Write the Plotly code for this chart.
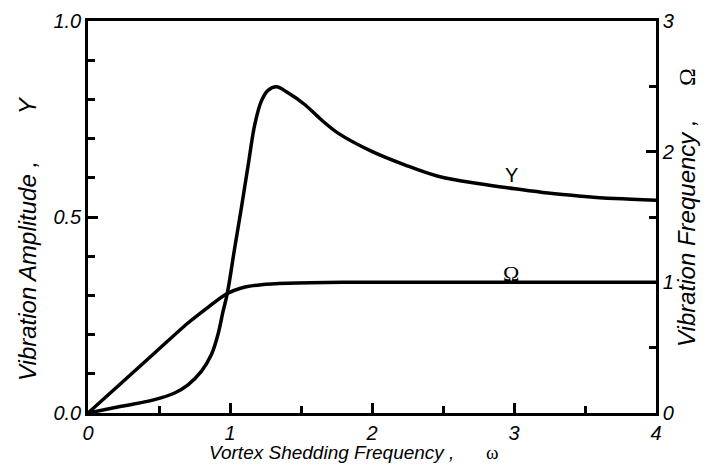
import plotly.graph_objects as go

# Vibration amplitude Y vs vortex shedding frequency omega (left axis)
omega_Y = [0.0, 0.235, 0.469, 0.61, 0.704, 0.798, 0.869, 0.915, 0.951, 0.981, 1.033, 1.080, 1.127,
           1.174, 1.220, 1.268, 1.326, 1.408, 1.526, 1.643, 1.761, 1.995, 2.23, 2.465, 2.77, 3.005,
           3.239, 3.474, 3.709, 4.0]
Y_vals = [0.0, 0.017, 0.034, 0.051, 0.072, 0.106, 0.149, 0.200, 0.259, 0.305, 0.421, 0.523, 0.630,
          0.735, 0.795, 0.823, 0.832, 0.817, 0.787, 0.748, 0.714, 0.668, 0.633, 0.604, 0.584, 0.572,
          0.561, 0.553, 0.547, 0.543]

# Vibration frequency Omega vs omega (right axis)
omega_W = [0.0, 0.235, 0.469, 0.704, 0.845, 0.974, 1.080, 1.221, 1.408, 1.8, 2.5, 3.0, 4.0]
W_vals = [0.0, 0.23, 0.459, 0.689, 0.809, 0.911, 0.957, 0.982, 0.993, 1.0, 1.0, 1.0, 1.0]

x_ticks = [0, 1, 2, 3, 4]
y_ticks = [0.0, 0.5, 1.0]
y_ticklabels = ["0.0", "0.5", "1.0"]
y2_ticks = [0, 1, 2, 3]

x_title = "<i>Vortex Shedding Frequency ,</i>" + "&nbsp;" * 6 + "<span style='font-family:Liberation Serif, serif'>ω</span>"
y_title = "<i>Vibration Amplitude ,</i>" + "&nbsp;" * 7 + "<i>Y</i>"
y2_title = "<i>Vibration Frequency ,</i>" + "&nbsp;" * 5 + "<span style='font-family:Liberation Serif, serif'>Ω</span>"

SANS = "Liberation Sans, Arial, sans-serif"
SERIF = "Liberation Serif, Times New Roman, serif"

fig = go.Figure()
fig.add_trace(go.Scatter(x=omega_Y, y=Y_vals, mode="lines",
                         line=dict(color="black", width=3.5, shape="spline", smoothing=1.0),
                         showlegend=False, yaxis="y"))
fig.add_trace(go.Scatter(x=omega_W, y=W_vals, mode="lines",
                         line=dict(color="black", width=3.5, shape="spline", smoothing=0.8),
                         showlegend=False, yaxis="y2"))

tickfont = dict(family=SANS, size=20, color="black")
common = dict(ticks="inside", ticklen=10, tickwidth=2.5, tickcolor="black",
              showline=True, linewidth=2.5, linecolor="black",
              showgrid=False, zeroline=False, tickfont=tickfont, automargin=False)
fig.update_layout(
    width=711, height=468,
    margin=dict(l=80, r=63, t=13, b=63),
    plot_bgcolor="white", paper_bgcolor="white",
    xaxis=dict(range=[0, 4], tickvals=x_ticks, ticktext=[f"<i>{v}</i>" for v in x_ticks], mirror=True,
               minor=dict(dtick=0.5, ticks="inside", ticklen=7, tickwidth=2.5, tickcolor="black"),
               **common),
    yaxis=dict(range=[0, 1], tickvals=y_ticks, ticktext=[f"<i>{t}</i>" for t in y_ticklabels],
               minor=dict(dtick=0.1, ticks="inside", ticklen=7, tickwidth=2.5, tickcolor="black"),
               **common),
    yaxis2=dict(range=[0, 3], overlaying="y", side="right", tickvals=y2_ticks,
                ticktext=[f"<i>{v}</i>" for v in y2_ticks],
                minor=dict(dtick=0.5, ticks="inside", ticklen=7, tickwidth=2.5, tickcolor="black"),
                **common),
)

# axis titles as annotations for precise placement
fig.add_annotation(x=0.2095, y=-0.102, xref="paper", yref="paper", text=x_title, showarrow=False,
                   xanchor="left", yanchor="middle", font=dict(family=SANS, size=19, color="black"))
fig.add_annotation(x=-0.1056, y=0.444, xref="paper", yref="paper", text=y_title, showarrow=False,
                   textangle=-90, xanchor="center", yanchor="middle",
                   font=dict(family=SANS, size=24, color="black"))
fig.add_annotation(x=1.0528, y=0.5255, xref="paper", yref="paper", text=y2_title, showarrow=False,
                   textangle=-90, xanchor="center", yanchor="middle",
                   font=dict(family=SANS, size=24, color="black"))

# curve labels
fig.add_annotation(x=2.98, y=0.608, xref="x", yref="y", text="Y", showarrow=False,
                   font=dict(family=SANS, size=20, color="black"))
fig.add_annotation(x=2.98, y=1.071, xref="x", yref="y2", text="Ω", showarrow=False,
                   font=dict(family=SERIF, size=22, color="black"))

fig.write_html("out.html")
